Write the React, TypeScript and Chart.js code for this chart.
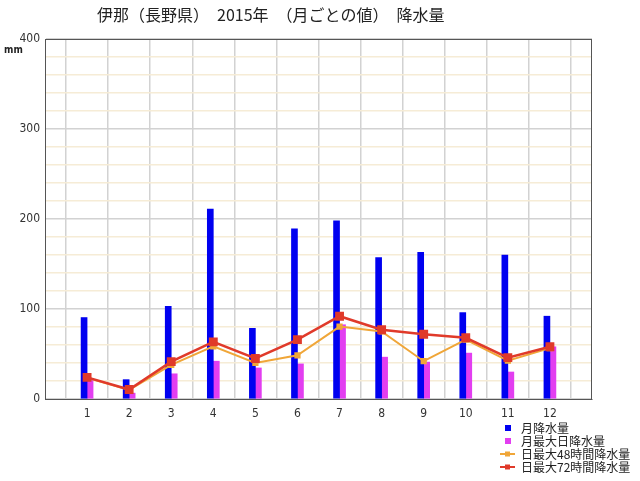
import { useEffect, useRef } from "react";
import { Chart, registerables } from "chart.js";

Chart.register(...registerables);

const TITLE = "伊那（長野県）　2015年　（月ごとの値）　降水量";
const MONTHS = [1, 2, 3, 4, 5, 6, 7, 8, 9, 10, 11, 12];
const MONTHLY = [90.5, 21.5, 103, 211, 78.5, 189, 198, 157, 163, 96, 160, 92];
const MAX_DAILY = [23, 6.5, 28, 42, 34.5, 39, 82.5, 46.5, 41, 51, 30, 58];
const MAX_48H = [23.5, 10, 38, 58.5, 40, 48.5, 80.5, 75, 42, 66, 42.5, 56.5];
const MAX_72H = [24, 10.5, 41.5, 63.5, 45, 66, 92, 77, 72, 68, 46, 58];
const LEGEND = ["月降水量", "月最大日降水量", "日最大48時間降水量", "日最大72時間降水量"];

const BLUE = "#0000f0";
const MAGENTA = "#e23ef0";
const ORANGE = "#f0a638";
const RED = "#e03a2a";
const NUM_FONT = '"DejaVu Sans Condensed", "DejaVu Sans", sans-serif';
const JP_FONT = '"Noto Sans CJK JP", sans-serif';

const pts = (vals: number[]) => vals.map((v, i) => ({ x: MONTHS[i], y: v }));

const decor = {
  id: "decor",
  afterDraw(chart: Chart) {
    const { ctx, chartArea: a } = chart;
    ctx.save();
    // frame
    ctx.strokeStyle = "#555";
    ctx.lineWidth = 1;
    ctx.strokeRect(a.left + 0.5, a.top + 0.5, a.right - a.left - 1, a.bottom - a.top);
    // title
    ctx.fillStyle = "#222";
    ctx.font = `16px ${JP_FONT}`;
    ctx.textBaseline = "middle";
    ctx.textAlign = "left";
    ctx.fillText(TITLE, 97, 15);
    // unit
    ctx.font = `bold 10px ${NUM_FONT}`;
    ctx.fillText("mm", 4, 50);
    // legend
    ctx.font = `12px ${JP_FONT}`;
    LEGEND.forEach((label, i) => {
      const y = 428 + i * 13;
      if (i < 2) {
        ctx.fillStyle = i === 0 ? BLUE : MAGENTA;
        ctx.fillRect(505, y - 3, 6, 6);
      } else {
        const c = i === 2 ? ORANGE : RED;
        ctx.strokeStyle = c;
        ctx.lineWidth = 2;
        ctx.beginPath();
        ctx.moveTo(500, y);
        ctx.lineTo(515, y);
        ctx.stroke();
        ctx.fillStyle = c;
        ctx.fillRect(505, y - 2.5, 5, 5);
      }
      ctx.fillStyle = "#222";
      ctx.fillText(label, 521, y);
    });
    ctx.restore();
  },
};

export default function App() {
  const canvasRef = useRef<HTMLCanvasElement>(null);

  useEffect(() => {
    if (!canvasRef.current) return;
    const chart = new Chart(canvasRef.current, {
      type: "bar",
      data: {
        datasets: [
          {
            type: "line",
            label: LEGEND[3],
            data: pts(MAX_72H),
            borderColor: RED,
            backgroundColor: RED,
            borderWidth: 2.5,
            pointStyle: "rect",
            pointRadius: 4.5,
            order: 1,
          },
          {
            type: "line",
            label: LEGEND[2],
            data: pts(MAX_48H),
            borderColor: ORANGE,
            backgroundColor: ORANGE,
            borderWidth: 2,
            pointStyle: "rect",
            pointRadius: 3,
            order: 2,
          },
          {
            type: "bar",
            label: LEGEND[0],
            data: pts(MONTHLY),
            backgroundColor: BLUE,
            barThickness: 6,
            order: 3,
          },
          {
            type: "bar",
            label: LEGEND[1],
            data: pts(MAX_DAILY),
            backgroundColor: MAGENTA,
            barThickness: 6,
            order: 4,
          },
        ],
      },
      options: {
        animation: false,
        responsive: true,
        maintainAspectRatio: false,
        layout: { padding: { top: 39, right: 48, left: 0, bottom: 0 } },
        plugins: { legend: { display: false }, title: { display: false }, tooltip: { enabled: false } },
        scales: {
          x: {
            type: "linear",
            min: 0,
            max: 13,
            offset: false,
            afterFit: (s: any) => {
              s.height = 82;
            },
            ticks: {
              stepSize: 1,
              padding: 8,
              color: "#333",
              font: { family: NUM_FONT, size: 12 },
              callback: (v: any) => (v >= 1 && v <= 12 ? String(v) : ""),
            },
            grid: { color: "#d2d2d2", lineWidth: 1.5, drawTicks: false },
            border: { color: "#555" },
          },
          y: {
            min: 0,
            max: 400,
            afterFit: (s: any) => {
              s.width = 45;
            },
            ticks: {
              stepSize: 20,
              padding: 5,
              color: "#333",
              font: { family: NUM_FONT, size: 12 },
              callback: (v: any) => (Math.round(v) % 100 === 0 ? String(v) : ""),
            },
            grid: {
              drawTicks: false,
              lineWidth: 1.5,
              color: (c: any) => (c.tick && Math.round(c.tick.value) % 100 === 0 ? "#d2d2d2" : "#f6ecd6"),
            },
            border: { color: "#555" },
          },
        },
      },
      plugins: [decor],
    });
    return () => chart.destroy();
  }, []);

  return (
    <div style={{ position: "absolute", left: 0, top: 0, width: 640, height: 481, background: "#fff" }}>
      <canvas ref={canvasRef} />
    </div>
  );
}
